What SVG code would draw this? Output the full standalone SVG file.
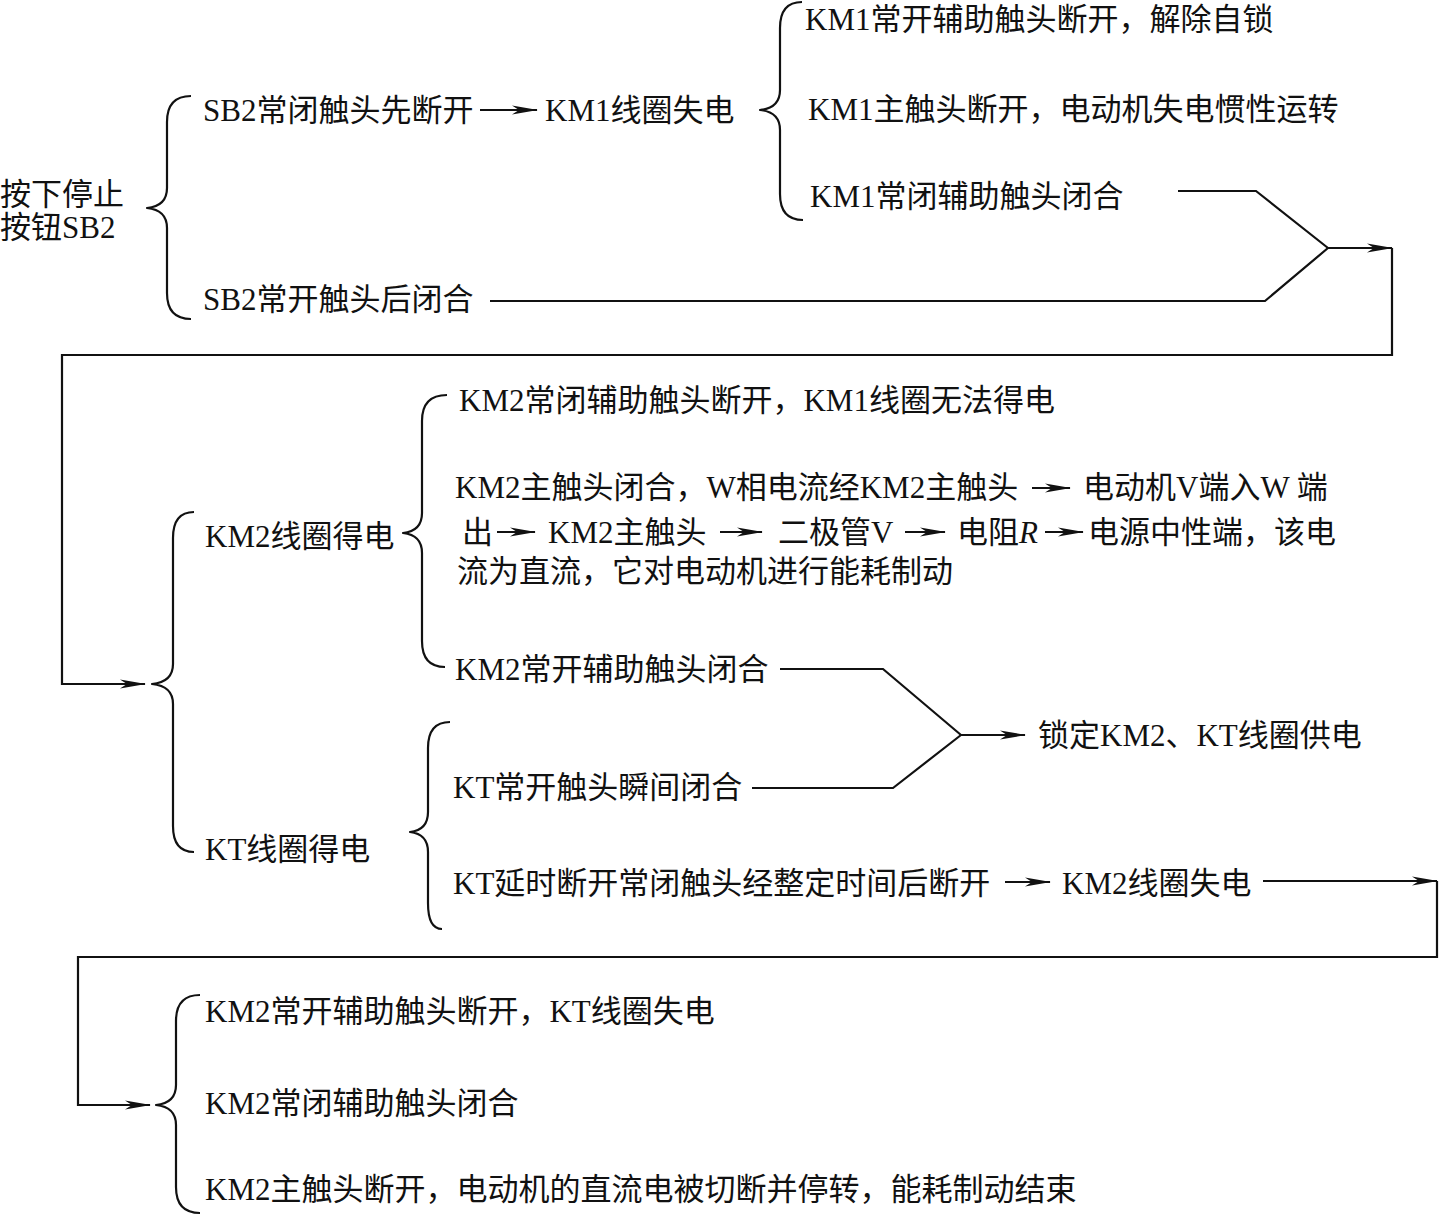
<svg xmlns="http://www.w3.org/2000/svg" width="1440" height="1215" viewBox="0 0 1440 1215">
<style>
text{font-family:"Liberation Serif","Noto Sans CJK SC",serif;font-size:31px;fill:#111}
.br{fill:none;stroke:#111;stroke-width:2.2;stroke-linejoin:round}
.ln{fill:none;stroke:#111;stroke-width:2.2;stroke-linejoin:miter}
</style>
<defs>
<marker id="ah" viewBox="0 0 26 12" markerWidth="26" markerHeight="12" refX="25" refY="6" orient="auto" markerUnits="userSpaceOnUse">
<path d="M26,6 L0,1.5 L7,6 L0,10.5 Z" fill="#111"/>
</marker>
</defs>
<rect width="1440" height="1215" fill="#fff"/>

<g id="n-stop"><text x="0" y="205">按下停止</text><text x="0" y="238">按钮SB2</text>
<path class="br" d="M191,96 Q167,96 167,122 L167,188 Q167,206 147,208 Q167,210 167,228 L167,293 Q167,319 191,319"/></g>
<g id="n-sb2nc"><text x="203" y="121">SB2常闭触头先断开</text></g>
<g id="n-km1off"><text x="545" y="121">KM1线圈失电</text>
<path class="br" d="M802,2 Q780,2 780,28 L780,90 Q780,108 760,110 Q780,112 780,130 L780,194 Q780,220 803,220"/></g>
<g id="n-km1a"><text x="805" y="30">KM1常开辅助触头断开，解除自锁</text></g>
<g id="n-km1b"><text x="808" y="120">KM1主触头断开，电动机失电惯性运转</text></g>
<g id="n-km1c"><text x="810" y="207">KM1常闭辅助触头闭合</text></g>
<g id="n-sb2no"><text x="203" y="310">SB2常开触头后闭合</text></g>

<g id="n-b3"><path class="br" d="M194,512 Q173,512 173,538 L173,664 Q173,682 152,684 Q173,686 173,704 L173,826 Q173,852 194,852"/></g>
<g id="n-km2on"><text x="205" y="547">KM2线圈得电</text>
<path class="br" d="M447,395 Q422,395 422,421 L422,513 Q422,531 403,533 Q422,535 422,553 L422,641 Q422,667 445,667"/></g>
<g id="n-ktoff"><text x="205" y="860">KT线圈得电</text>
<path class="br" d="M450,722 Q428,722 428,748 L428,812 Q428,830 410,832 Q428,834 428,852 L428,903 Q428,929 442,929"/></g>
<g id="n-km2a"><text x="459" y="411">KM2常闭辅助触头断开，KM1线圈无法得电</text></g>
<g id="n-km2b">
<text x="455" y="498">KM2主触头闭合，W相电流经KM2主触头</text>
<text x="1083" y="498">电动机V端入W 端</text>
<text x="462" y="543">出</text>
<text x="548" y="543">KM2主触头</text>
<text x="778" y="543">二极管V</text>
<text x="957" y="543">电阻<tspan font-style="italic">R</tspan></text>
<text x="1088" y="543">电源中性端，该电</text>
<text x="457" y="582">流为直流，它对电动机进行能耗制动</text>
</g>
<g id="n-km2c"><text x="455" y="680">KM2常开辅助触头闭合</text></g>
<g id="n-kta"><text x="453" y="798">KT常开触头瞬间闭合</text></g>
<g id="n-ktb"><text x="453" y="894">KT延时断开常闭触头经整定时间后断开</text></g>
<g id="n-lock"><text x="1038" y="746">锁定KM2、KT线圈供电</text></g>
<g id="n-km2off"><text x="1062" y="894">KM2线圈失电</text></g>

<g id="n-b6"><path class="br" d="M200,995 Q176,995 176,1021 L176,1085 Q176,1103 156,1105 Q176,1107 176,1125 L176,1187 Q176,1213 200,1213"/></g>
<g id="n-e1"><text x="205" y="1022">KM2常开辅助触头断开，KT线圈失电</text></g>
<g id="n-e2"><text x="205" y="1114">KM2常闭辅助触头闭合</text></g>
<g id="n-e3"><text x="205" y="1200">KM2主触头断开，电动机的直流电被切断并停转，能耗制动结束</text></g>

<g id="connectors">
<path class="ln" d="M480,110 H537" marker-end="url(#ah)"/>
<path class="ln" d="M1178,191 H1256 L1328,248"/>
<path class="ln" d="M490,301 H1265 L1328,248"/>
<path class="ln" d="M1328,248 H1392" marker-end="url(#ah)"/>
<path class="ln" d="M1392,248 V355 H62 V684 H145" marker-end="url(#ah)"/>
<path class="ln" d="M1032,488 H1070" marker-end="url(#ah)"/>
<path class="ln" d="M497,532 H535" marker-end="url(#ah)"/>
<path class="ln" d="M720,532 H762" marker-end="url(#ah)"/>
<path class="ln" d="M905,532 H945" marker-end="url(#ah)"/>
<path class="ln" d="M1045,532 H1083" marker-end="url(#ah)"/>
<path class="ln" d="M780,669 H883 L961,735"/>
<path class="ln" d="M752,788 H893 L961,735"/>
<path class="ln" d="M961,735 H1025" marker-end="url(#ah)"/>
<path class="ln" d="M1005,882 H1050" marker-end="url(#ah)"/>
<path class="ln" d="M1263,881 H1437" marker-end="url(#ah)"/>
<path class="ln" d="M1437,881 V957 H78 V1105 H150" marker-end="url(#ah)"/>
</g>
</svg>
